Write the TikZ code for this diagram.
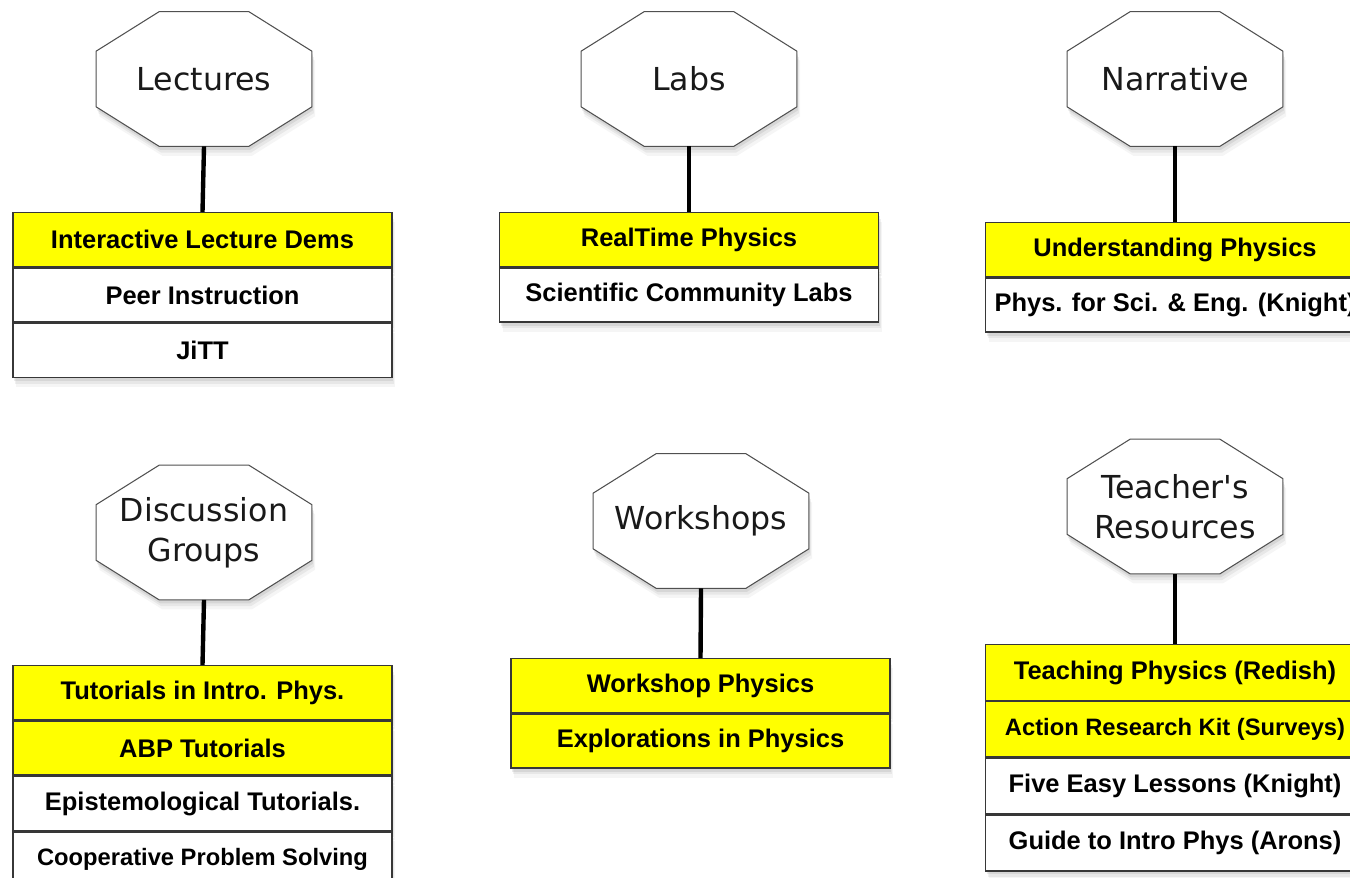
\documentclass[tikz,border=0pt]{standalone}
\usepackage{fontspec}
\setmainfont{Liberation Sans}
\newfontfamily\octfont{DejaVu Sans}
\usetikzlibrary{positioning,calc,shadows,backgrounds}
\definecolor{rowyellow}{RGB}{255,255,0}
\definecolor{rowedge}{RGB}{55,55,55}
\definecolor{octedge}{RGB}{80,80,80}

\tikzset{
  softshadow/.style={drop shadow={shadow xshift=0.6pt, shadow yshift=-2pt, opacity=0.16},
      drop shadow={shadow xshift=1.2pt, shadow yshift=-3.6pt, opacity=0.12},
      drop shadow={shadow xshift=1.8pt, shadow yshift=-5.4pt, opacity=0.08}},
  octo/.style={minimum width=4.3cm, minimum height=2.68cm, align=center,
      font=\octfont\fontsize{18}{23}\selectfont, text=black!90},
  octline/.style={draw=octedge, line width=0.6pt, fill=white, softshadow},
  row/.style={draw=rowedge, line width=0.8pt, fill=white, minimum width=7.58cm,
      minimum height=1.08cm, inner xsep=2pt, font=\bfseries\fontsize{14.5}{17}\selectfont,
      softshadow},
  hirow/.style={row, fill=rowyellow},
  smallrow/.style={font=\bfseries\fontsize{13.5}{16}\selectfont},
  link/.style={line width=2.5pt, black}
}

\begin{document}
\begin{tikzpicture}
\useasboundingbox (0,0) rectangle (27,-17.54);

% categories
\node[octo] (lectures) at (4.08,-1.58) {Lectures};
\node[octo] (labs) at (13.78,-1.58) {Labs};
\node[octo] (narrative) at (23.5,-1.58) {Narrative};
\node[octo] (discussion) at (4.08,-10.65) {Discussion\\Groups};
\node[octo] (workshops) at (14.02,-10.42) {Workshops};
\node[octo] (teachers) at (23.5,-10.13) {Teacher\textquotesingle s\\Resources};

\begin{scope}[on background layer]
\foreach \cat in {lectures,labs,narrative,discussion,workshops,teachers}
  \draw[octline] ($(\cat.north west)+(1.26,0)$) -- ($(\cat.north east)+(-1.26,0)$)
    -- ($(\cat.north east)+(0,-0.79)$) -- ($(\cat.south east)+(0,0.79)$)
    -- ($(\cat.south east)+(-1.26,0)$) -- ($(\cat.south west)+(1.26,0)$)
    -- ($(\cat.south west)+(0,0.79)$) -- ($(\cat.north west)+(0,-0.79)$) -- cycle;
\end{scope}

% lectures
\node[hirow, anchor=north] (lec1) at (4.05,-4.24) {Interactive Lecture Dems};
\node[row, below=0pt of lec1] (lec2) {Peer Instruction};
\node[row, below=0pt of lec2] (lec3) {JiTT};

% labs
\node[hirow, anchor=north] (lab1) at (13.78,-4.24) {RealTime Physics};
\node[row, below=0pt of lab1] (lab2) {Scientific Community Labs};

% narrative
\node[hirow, anchor=north] (nar1) at (23.5,-4.44) {Understanding Physics};
\node[row, below=0pt of nar1] (nar2) {Phys. for Sci. \& Eng. (Knight)};

% discussion groups
\node[hirow, anchor=north] (dis1) at (4.05,-13.3) {Tutorials in Intro. Phys.};
\node[hirow, below=0pt of dis1] (dis2) {ABP Tutorials};
\node[row, below=0pt of dis2] (dis3) {Epistemological Tutorials.};
\node[row, smallrow, below=0pt of dis3] (dis4) {Cooperative Problem Solving};

% workshops
\node[hirow, anchor=north] (wks1) at (14.01,-13.16) {Workshop Physics};
\node[hirow, below=0pt of wks1] (wks2) {Explorations in Physics};

% teacher's resources
\node[hirow, minimum height=1.11cm, anchor=north] (tea1) at (23.5,-12.88) {Teaching Physics (Redish)};
\node[hirow, smallrow, minimum height=1.11cm, below=0pt of tea1] (tea2) {Action Research Kit (Surveys)};
\node[row, minimum height=1.11cm, below=0pt of tea2] (tea3) {Five Easy Lessons (Knight)};
\node[row, minimum height=1.11cm, below=0pt of tea3] (tea4) {Guide to Intro Phys (Arons)};

\draw[link] (lectures.south) -- (lec1.north);
\draw[link] (labs.south) -- (lab1.north);
\draw[link] (narrative.south) -- (nar1.north);
\draw[link] (discussion.south) -- (dis1.north);
\draw[link] (workshops.south) -- (wks1.north);
\draw[link] (teachers.south) -- (tea1.north);
\end{tikzpicture}
\end{document}
